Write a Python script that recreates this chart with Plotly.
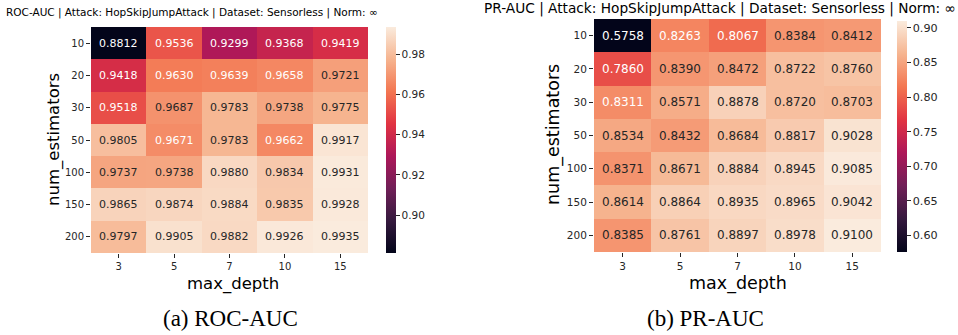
import plotly.graph_objects as go

# Grid-search results for the tree ensemble detector
max_depth = ["3", "5", "7", "10", "15"]
num_estimators = ["10", "20", "30", "50", "100", "150", "200"]

roc_auc = [
    [0.8812, 0.9536, 0.9299, 0.9368, 0.9419],
    [0.9418, 0.9630, 0.9639, 0.9658, 0.9721],
    [0.9518, 0.9687, 0.9783, 0.9738, 0.9775],
    [0.9805, 0.9671, 0.9783, 0.9662, 0.9917],
    [0.9737, 0.9738, 0.9880, 0.9834, 0.9931],
    [0.9865, 0.9874, 0.9884, 0.9835, 0.9928],
    [0.9797, 0.9905, 0.9882, 0.9926, 0.9935],
]

pr_auc = [
    [0.5758, 0.8263, 0.8067, 0.8384, 0.8412],
    [0.7860, 0.8390, 0.8472, 0.8722, 0.8760],
    [0.8311, 0.8571, 0.8878, 0.8720, 0.8703],
    [0.8534, 0.8432, 0.8684, 0.8817, 0.9028],
    [0.8371, 0.8671, 0.8884, 0.8945, 0.9085],
    [0.8614, 0.8864, 0.8935, 0.8965, 0.9042],
    [0.8385, 0.8761, 0.8897, 0.8978, 0.9100],
]

roc_ticks = [0.90, 0.92, 0.94, 0.96, 0.98]
pr_ticks = [0.60, 0.65, 0.70, 0.75, 0.80, 0.85, 0.90]

title_roc = "ROC-AUC | Attack: HopSkipJumpAttack | Dataset: Sensorless | Norm: ∞"
title_pr = "PR-AUC | Attack: HopSkipJumpAttack | Dataset: Sensorless | Norm: ∞"

W, H = 958, 335
FONT = "DejaVu Sans"
INK = "#262626"

# seaborn "rocket" colormap sampled at even steps
ROCKET = [
    (0.0, "#03051a"), (1 / 7, "#35193e"), (2 / 7, "#701f57"), (3 / 7, "#ad1759"),
    (4 / 7, "#e13342"), (5 / 7, "#f37651"), (6 / 7, "#f6b48f"), (1.0, "#faebdd"),
]


def hex_rgb(h):
    return tuple(int(h[i:i + 2], 16) for i in (1, 3, 5))


def sample(t):
    t = min(max(t, 0.0), 1.0)
    for (p0, c0), (p1, c1) in zip(ROCKET[:-1], ROCKET[1:]):
        if t <= p1:
            f = (t - p0) / (p1 - p0)
            a, b = hex_rgb(c0), hex_rgb(c1)
            return tuple(a[i] + f * (b[i] - a[i]) for i in range(3))
    return hex_rgb(ROCKET[-1][1])


def luminance(rgb):
    lin = []
    for c in rgb:
        c = c / 255.0
        lin.append(c / 12.92 if c <= 0.03928 else ((c + 0.055) / 1.055) ** 2.4)
    return 0.2126 * lin[0] + 0.7152 * lin[1] + 0.0722 * lin[2]


def px(x):
    return x / W


def py(y):
    return 1 - y / H


fig = go.Figure()
annotations = []

panels = [
    dict(z=roc_auc, ticks=roc_ticks, xa="x", ya="y", xd=(91, 368), yd=(27, 253),
         cb=(386, 27, 226), title=title_roc, tpos=(192, 12), tsize=10.5,
         cell_size=11, tick_size=10, cb_size=10.5, lab_size=16.5,
         ylab=(54, 140), xlab=(233, 284),
         caption="(a) ROC-AUC", cpos=(230, 318)),
    dict(z=pr_auc, ticks=pr_ticks, xa="x2", ya="y2", xd=(594, 881), yd=(19, 252),
         cb=(897, 21, 231), title=title_pr, tpos=(720, 8), tsize=13.7,
         cell_size=12, tick_size=10.5, cb_size=11.2, lab_size=17.5,
         ylab=(553, 135), xlab=(738, 283),
         caption="(b) PR-AUC", cpos=(705, 318)),
]

layout_axes = {}
for i, p in enumerate(panels):
    z = p["z"]
    flat = [v for row in z for v in row]
    zmin, zmax = min(flat), max(flat)
    fig.add_trace(go.Heatmap(
        z=z, x=max_depth, y=num_estimators, xaxis=p["xa"], yaxis=p["ya"],
        zmin=zmin, zmax=zmax, colorscale=[[s, c] for s, c in ROCKET],
        hoverinfo="skip",
        colorbar=dict(
            x=px(p["cb"][0]), xanchor="left", xpad=0, ypad=0,
            y=py(p["cb"][1]), yanchor="top", len=p["cb"][2], lenmode="pixels",
            thickness=10, thicknessmode="pixels", outlinewidth=0,
            ticks="outside", ticklen=4, tickcolor=INK, tickwidth=1,
            tickvals=p["ticks"], ticktext=[f"{t:.2f}" for t in p["ticks"]],
            tickfont=dict(family=FONT, size=p["cb_size"], color=INK),
        ),
    ))
    suffix = "" if i == 0 else "2"
    layout_axes["xaxis" + suffix] = dict(
        domain=[px(p["xd"][0]), px(p["xd"][1])], anchor="y" + suffix,
        type="category", range=[-0.5, len(max_depth) - 0.5],
        showgrid=False, zeroline=False, showline=False,
        ticks="outside", ticklen=4, tickcolor=INK, tickwidth=1,
        tickfont=dict(family=FONT, size=p["tick_size"], color=INK),
    )
    layout_axes["yaxis" + suffix] = dict(
        domain=[py(p["yd"][1]), py(p["yd"][0])], anchor="x" + suffix,
        type="category", range=[len(num_estimators) - 0.5, -0.5],
        showgrid=False, zeroline=False,
        showline=False, ticks="outside", ticklen=4, tickcolor=INK, tickwidth=1,
        tickfont=dict(family=FONT, size=p["tick_size"], color=INK),
    )

    # value labels in each cell, contrasting with the cell colour
    for r, row in enumerate(z):
        for c, v in enumerate(row):
            lum = luminance(sample((v - zmin) / (zmax - zmin)))
            annotations.append(dict(
                x=c, y=r, xref=p["xa"], yref=p["ya"],
                text=f"{v:.4f}", showarrow=False,
                font=dict(family=FONT, size=p["cell_size"],
                          color=INK if lum > 0.408 else "white"),
            ))

    annotations.append(dict(
        x=px(p["tpos"][0]), y=py(p["tpos"][1]), xref="paper", yref="paper",
        text=p["title"], showarrow=False, xanchor="center", yanchor="middle",
        font=dict(family=FONT, size=p["tsize"], color="black"),
    ))
    annotations.append(dict(
        x=px(p["ylab"][0]), y=py(p["ylab"][1]), xref="paper", yref="paper",
        text="num_estimators", textangle=-90, showarrow=False,
        xanchor="center", yanchor="middle",
        font=dict(family=FONT, size=p["lab_size"], color="black"),
    ))
    annotations.append(dict(
        x=px(p["xlab"][0]), y=py(p["xlab"][1]), xref="paper", yref="paper",
        text="max_depth", showarrow=False, xanchor="center", yanchor="middle",
        font=dict(family=FONT, size=p["lab_size"], color="black"),
    ))
    annotations.append(dict(
        x=px(p["cpos"][0]), y=py(p["cpos"][1]), xref="paper", yref="paper",
        text=p["caption"], showarrow=False, xanchor="center", yanchor="middle",
        font=dict(family="Liberation Serif", size=23, color="black"),
    ))

fig.update_layout(
    width=W, height=H, margin=dict(l=0, r=0, t=0, b=0),
    paper_bgcolor="white", plot_bgcolor="white",
    annotations=annotations, **layout_axes,
)

fig.write_html("out.html")
